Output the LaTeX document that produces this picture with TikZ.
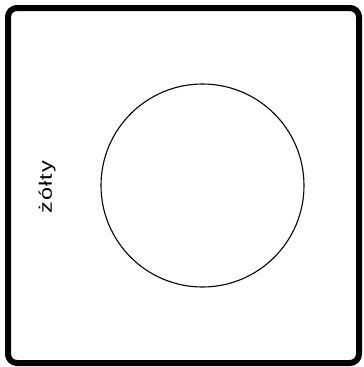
\documentclass[tikz,border=0pt]{standalone}
\usepackage{fontspec}
\setmainfont{Liberation Sans}
\begin{document}
\begin{tikzpicture}[x=1pt,y=-1pt,
  frame/.style={draw=black,line width=6pt,rounded corners=9pt},
  ring/.style={draw=black,line width=1.1pt},
  label/.style={font=\fontsize{18}{20}\selectfont\addfontfeature{LetterSpace=5},rotate=90,inner sep=0pt}]
\useasboundingbox (0,0) rectangle (364,367);
\draw[frame] (8,8) rectangle (359,363);
\node[ring,circle,minimum size=203pt,inner sep=0pt] (c) at (202.5,185.5) {};
\node[label] (t) at (47,187) {\scalebox{1.3}[1]{żółty}};
\end{tikzpicture}
\end{document}
